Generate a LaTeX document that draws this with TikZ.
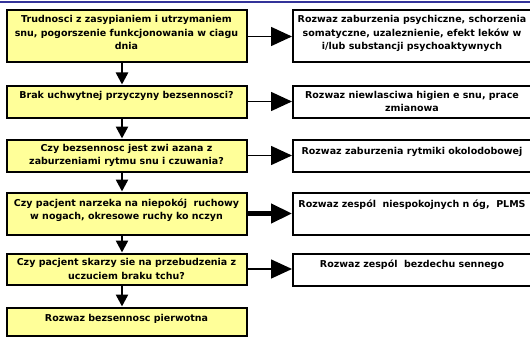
\documentclass[tikz,border=0pt]{standalone}
\usepackage{fontspec}
\setmainfont{DejaVu Sans}
\usetikzlibrary{arrows.meta}

\definecolor{boxyellow}{RGB}{255,255,153}
\definecolor{topblue}{RGB}{51,51,153}

\begin{document}
\begin{tikzpicture}[x=1pt,y=-1pt,
    qbox/.style={draw,line width=2pt,fill=boxyellow,minimum width=240pt,align=center,
        font=\fontsize{9.5}{13.5}\selectfont\bfseries},
    abox/.style={draw,line width=2pt,fill=white,minimum width=238pt,align=center,
        font=\fontsize{9.5}{13.5}\selectfont\bfseries},
    down/.style={line width=2.5pt,-{Triangle[length=12pt,width=12pt]}},
    side/.style={line width=1.5pt,-{Triangle[length=21pt,width=19pt]}}]
    \useasboundingbox (0,0) rectangle (530,337);

    % Rule at the top
    \coordinate (ruleL) at (0,2);
    \coordinate (ruleR) at (530,2);
    \draw[topblue,line width=2pt] (ruleL) -- (ruleR);

    % Nodes for the questions
    \node[qbox,minimum height=52pt,text depth=8pt] (q1) at (126.5,36.5)
        {Trudnosci z zasypianiem i utrzymaniem\\snu, pogorszenie funkcjonowania w ciagu\\dnia};
    \node[qbox,minimum height=32pt,text depth=14pt] (q2) at (126.5,101.5)
        {Brak uchwytnej przyczyny bezsennosci?};
    \node[qbox,minimum height=32pt] (q3) at (126.5,155.5)
        {Czy bezsennosc jest zwi azana z\\zaburzeniami rytmu snu i czuwania?};
    \node[qbox,minimum height=42pt,text depth=9pt] (q4) at (126.5,213.5)
        {Czy pacjent narzeka na niepokój\ \ ruchowy\\w nogach, okresowe ruchy ko nczyn};
    \node[qbox,minimum height=31pt] (q5) at (126.5,269)
        {Czy pacjent skarzy sie na przebudzenia z\\uczuciem braku tchu?};
    \node[qbox,minimum height=28pt,text depth=7pt] (q6) at (126.5,321.5)
        {Rozwaz bezsennosc pierwotna};
    \coordinate (axis) at (122,0);

    % Nodes for the answers
    \node[abox,minimum height=52pt,text depth=7pt] (a1) at (412,36)
        {Rozwaz zaburzenia psychiczne, schorzenia\\somatyczne, uzaleznienie, efekt leków w\\i/lub substancji psychoaktywnych};
    \node[abox,minimum height=32pt] (a2) at (412,101.5)
        {Rozwaz niewlasciwa higien e snu, prace\\zmianowa};
    \node[abox,minimum height=32pt,text depth=10pt] (a3) at (412,155.5)
        {Rozwaz zaburzenia rytmiki okolodobowej};
    \node[abox,minimum height=42pt,text depth=19pt] (a4) at (412,213.5)
        {Rozwaz zespól\ \ niespokojnych n óg,\ \ PLMS};
    \node[abox,minimum height=32pt,text depth=12pt] (a5) at (412,269.5)
        {Rozwaz zespól\ \ bezdechu sennego};

    % Arrows down the questions
    \draw[down] (q1.south -| axis) -- (q2.north -| axis);
    \draw[down] (q2.south -| axis) -- (q3.north -| axis);
    \draw[down] (q3.south -| axis) -- (q4.north -| axis);
    \draw[down] (q4.south -| axis) -- (q5.north -| axis);
    \draw[down] (q5.south -| axis) -- (q6.north -| axis);

    % Arrows to the answers
    \draw[side] (q1.east) -- (q1.east -| a1.west);
    \draw[side] (q2.east) -- (q2.east -| a2.west);
    \draw[side] (q3.east) -- (q3.east -| a3.west);
    \draw[side,line width=4.5pt] (q4.east) -- (q4.east -| a4.west);
    \draw[side] (q5.east) -- (q5.east -| a5.west);
\end{tikzpicture}
\end{document}
